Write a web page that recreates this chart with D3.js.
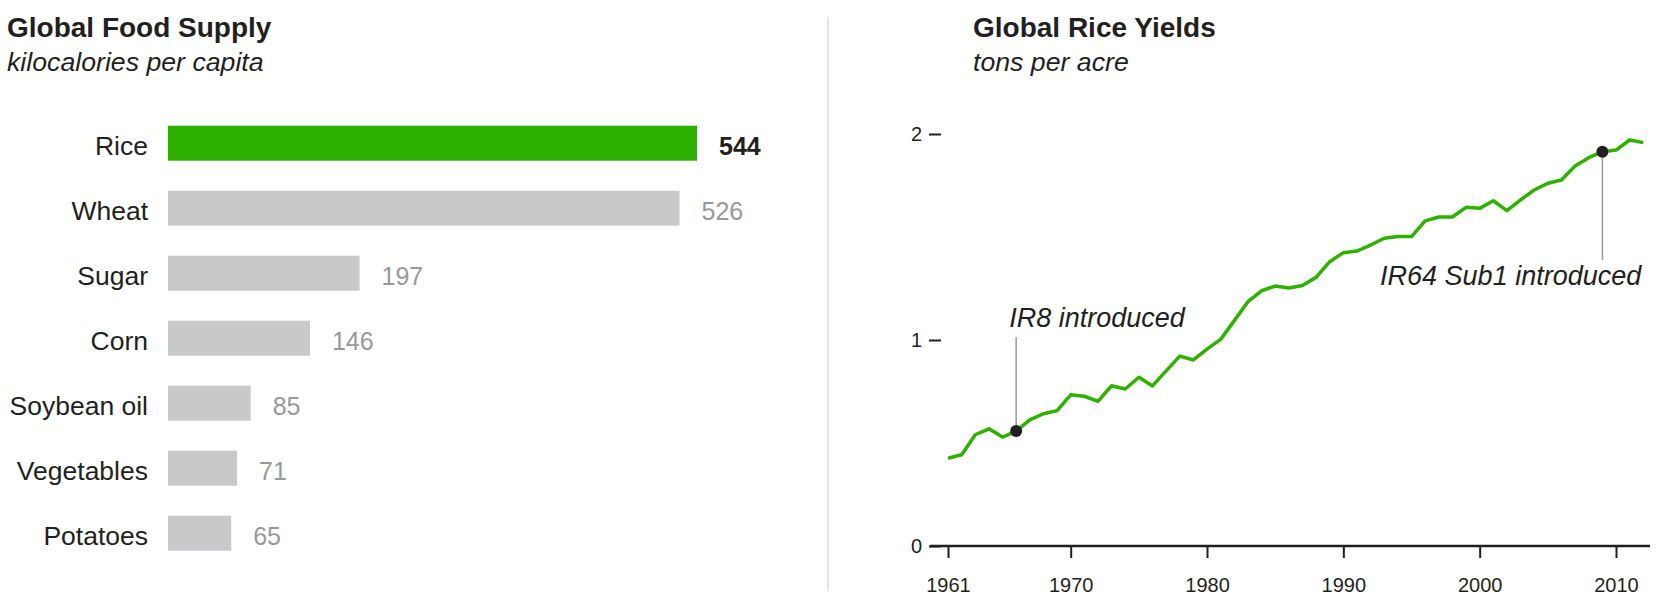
<!DOCTYPE html>
<html>
<head>
<meta charset="utf-8">
<script src="https://cdn.jsdelivr.net/npm/d3@7"></script>
<style>
  body { margin: 0; background: #fff; }
  svg text { font-family: "Helvetica Neue", Helvetica, "Liberation Sans", Arial, sans-serif; fill: #231f20; }
</style>
</head>
<body>
<script>
// food supply, kcal per capita
var foods = ["Rice", "Wheat", "Sugar", "Corn", "Soybean oil", "Vegetables", "Potatoes"];
var kcal = [544, 526, 197, 146, 85, 71, 65];

// rice yields, tons per acre
var years = d3.range(1961, 2013);
var yields = [0.426, 0.443, 0.540, 0.569, 0.529, 0.558, 0.612, 0.642, 0.657, 0.734,
              0.727, 0.702, 0.778, 0.762, 0.819, 0.777, 0.850, 0.922, 0.903, 0.956,
              1.003, 1.094, 1.186, 1.239, 1.262, 1.252, 1.265, 1.304, 1.380, 1.424,
              1.432, 1.461, 1.494, 1.502, 1.502, 1.578, 1.597, 1.597, 1.644, 1.639,
              1.676, 1.628, 1.680, 1.728, 1.761, 1.777, 1.845, 1.885, 1.914, 1.922,
              1.971, 1.958];
var yearTicks = [1961, 1970, 1980, 1990, 2000, 2010];
var yieldTicks = [0, 1, 2];
var notes = [{year: 1966, text: "IR8 introduced"}, {year: 2009, text: "IR64 Sub1 introduced"}];

var green = "#2db200", grey = "#c8c9cb", dark = "#231f20";

var svg = d3.select("body").append("svg")
    .attr("width", 1656)
    .attr("height", 600);

// titles
function title(x, t, sub) {
    svg.append("text").attr("x", x).attr("y", 37)
        .style("font-size", "28px").style("font-weight", "bold").text(t);
    svg.append("text").attr("x", x).attr("y", 71)
        .style("font-size", "26.7px").style("font-style", "italic").text(sub);
}
title(7, "Global Food Supply", "kilocalories per capita");
title(973, "Global Rice Yields", "tons per acre");

svg.append("line")
    .attr("x1", 828).attr("x2", 828).attr("y1", 17).attr("y2", 591)
    .attr("stroke", "#e4e4e4").attr("stroke-width", 2);

// ---- bar chart ----
var bx = d3.scaleLinear().domain([0, 544]).range([168, 697]),
    by = d3.scaleBand().domain(foods).range([110.7, 565.7])
        .paddingInner(30/65).paddingOuter(15/65);

var rows = svg.append("g").selectAll("g")
    .data(foods)
  .enter().append("g")
    .attr("transform", f => "translate(0," + by(f) + ")");

rows.append("rect")
    .attr("x", bx(0))
    .attr("width", (f, i) => bx(kcal[i]) - bx(0))
    .attr("height", by.bandwidth())
    .attr("fill", (f, i) => i == 0 ? green : grey);

rows.append("text")
    .attr("x", 148).attr("y", by.bandwidth()/2).attr("dy", "0.46em")
    .attr("text-anchor", "end")
    .style("font-size", "26.5px")
    .text(f => f);

rows.append("text")
    .attr("x", (f, i) => bx(kcal[i]) + 22).attr("y", by.bandwidth()/2).attr("dy", "0.47em")
    .style("font-size", "25px")
    .style("font-weight", (f, i) => i == 0 ? "bold" : null)
    .style("fill", (f, i) => i == 0 ? dark : "#999")
    .text((f, i) => kcal[i]);

// ---- line chart ----
var lx = d3.scaleLinear().domain([1961, 2010]).range([948, 1616]),
    ly = d3.scaleLinear().domain([0, 2]).range([546, 134]);

var yAxis = svg.append("g")
    .attr("transform", "translate(941,0)")
    .call(d3.axisLeft(ly).tickValues(yieldTicks).tickSize(12).tickPadding(7).tickFormat(d3.format("d")));
yAxis.select(".domain").remove();
yAxis.selectAll("line").attr("stroke", dark).attr("stroke-width", 2);
yAxis.selectAll("text").style("font-size", "20px").style("fill", dark);

var xAxis = svg.append("g")
    .attr("transform", "translate(0," + ly(0) + ")")
    .call(d3.axisBottom(lx).tickValues(yearTicks).tickSize(12).tickPadding(20).tickFormat(d3.format("d")));
xAxis.select(".domain").remove();
xAxis.selectAll("line").attr("stroke", dark).attr("stroke-width", 2);
xAxis.selectAll("text").style("font-size", "20px").style("fill", dark);

svg.append("line")
    .attr("x1", lx.range()[0] - 18).attr("x2", 1650)
    .attr("y1", ly(0)).attr("y2", ly(0))
    .attr("stroke", dark).attr("stroke-width", 2.5);

svg.append("path")
    .datum(years)
    .attr("fill", "none")
    .attr("stroke", green)
    .attr("stroke-width", 3.5)
    .attr("stroke-linejoin", "round")
    .attr("d", d3.line().x(y => lx(y)).y((y, i) => ly(yields[i])));

// annotations
notes.forEach(function(n, k) {
    var px = lx(n.year), py = ly(yields[years.indexOf(n.year)]);
    var up = k == 0;
    svg.append("line")
        .attr("x1", px).attr("x2", px)
        .attr("y1", py).attr("y2", up ? 337 : 260)
        .attr("stroke", "#999").attr("stroke-width", 1.5);
    svg.append("circle").attr("cx", px).attr("cy", py).attr("r", 6).attr("fill", dark);
    svg.append("text")
        .attr("x", up ? px - 7 : lx(2012) - 2)
        .attr("y", up ? 327 : 285)
        .attr("text-anchor", up ? "start" : "end")
        .style("font-size", "27px").style("font-style", "italic")
        .text(n.text);
});
</script>
</body>
</html>
